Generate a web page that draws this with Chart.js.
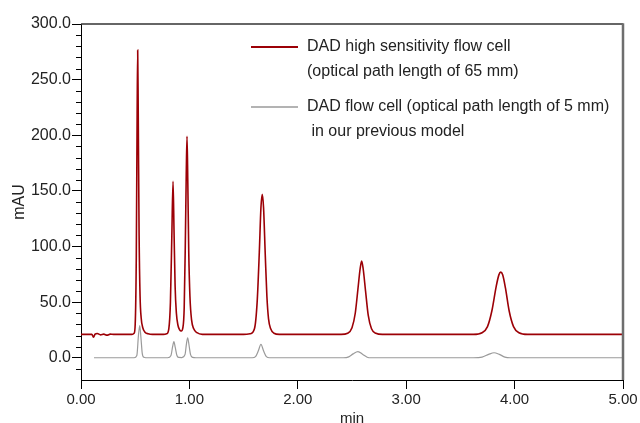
<!DOCTYPE html>
<html>
<head>
<meta charset="utf-8">
<script src="https://cdn.jsdelivr.net/npm/chart.js@4/dist/chart.umd.min.js"></script>
<style>
  html, body { margin: 0; padding: 0; background: #fff; }
  #wrap { width: 640px; height: 423px; }
</style>
</head>
<body>
<div id="wrap"><canvas id="chrom" width="640" height="423"></canvas></div>
<script>
// [time (min), signal (mAU)]
const highSensTrace = [
    [0.00, 21], [0.10, 21], [0.115, 18.5], [0.13, 21.2], [0.15, 21.8], [0.18, 20.6],
    [0.21, 21.2], [0.24, 20.3], [0.27, 21.2], [0.30, 21], [0.47, 21],
    [0.49, 22], [0.50, 30], [0.51, 90], [0.518, 220], [0.523, 276.5], [0.528, 220],
    [0.536, 110], [0.545, 55], [0.555, 36], [0.57, 27], [0.59, 23], [0.62, 21.5], [0.66, 21],
    [0.76, 21], [0.79, 21.5], [0.81, 26], [0.825, 50], [0.838, 110], [0.849, 158.5],
    [0.858, 115], [0.868, 65], [0.88, 40], [0.895, 29], [0.91, 25], [0.925, 24],
    [0.94, 27], [0.952, 45], [0.962, 100], [0.971, 165], [0.978, 199], [0.985, 160],
    [0.994, 95], [1.005, 55], [1.02, 34], [1.04, 26], [1.07, 22.5], [1.12, 21],
    [1.50, 21], [1.56, 21.5], [1.60, 26], [1.625, 50], [1.645, 95], [1.66, 135],
    [1.672, 147], [1.684, 135], [1.70, 92], [1.715, 55], [1.73, 35], [1.75, 26],
    [1.78, 22], [1.83, 21],
    [2.40, 21], [2.46, 22], [2.50, 27], [2.53, 40], [2.555, 62], [2.575, 80],
    [2.589, 87], [2.603, 80], [2.625, 60], [2.65, 38], [2.68, 26], [2.72, 22], [2.78, 21],
    [3.62, 21], [3.70, 22.5], [3.75, 28], [3.79, 42], [3.83, 64], [3.855, 74.5],
    [3.872, 77], [3.89, 74.5], [3.915, 63], [3.95, 42], [3.99, 28], [4.04, 22.5],
    [4.12, 21], [5.00, 21]
];

const standardTrace = [
    [0.12, 0], [0.49, 0], [0.515, 2], [0.53, 20], [0.542, 29], [0.553, 18], [0.565, 4],
    [0.58, 0.5], [0.62, 0],
    [0.80, 0], [0.83, 2], [0.845, 10], [0.857, 14.5], [0.87, 9], [0.885, 2], [0.90, 0.3],
    [0.93, 0.2], [0.96, 3], [0.972, 12], [0.984, 18], [0.997, 11], [1.01, 3], [1.03, 0.3],
    [1.06, 0],
    [1.58, 0], [1.61, 1], [1.635, 6], [1.66, 12], [1.685, 6], [1.71, 1], [1.74, 0],
    [2.42, 0], [2.47, 0.8], [2.51, 3.5], [2.555, 5.5], [2.60, 3], [2.64, 0.5], [2.68, 0],
    [3.62, 0], [3.70, 0.6], [3.76, 3], [3.81, 4.5], [3.86, 3], [3.91, 0.6], [3.96, 0],
    [5.00, 0]
];

const seriesLabels = [
    ['DAD high sensitivity flow cell', '(optical path length of 65 mm)'],
    ['DAD flow cell (optical path length of 5 mm)', ' in our previous model']
];
const seriesColors = ['#9c0006', '#9a9a9a'];

const xTickValues = [0, 1, 2, 3, 4, 5];
const yTickValues = [0, 50, 100, 150, 200, 250, 300];
const yMinorTickValues = [-10, 10, 20, 30, 40, 60, 70, 80, 90, 110, 120, 130, 140,
    160, 170, 180, 190, 210, 220, 230, 240, 260, 270, 280, 290];

const FONT = "'Liberation Sans', Arial, Helvetica, sans-serif";
const toPoints = (trace) => trace.map(([x, y]) => ({ x, y }));

// frame (top/right), minor y ticks and the two-line legend
const decorations = {
    id: 'decorations',
    afterDraw(chart) {
        const { ctx, chartArea: a, scales } = chart;
        ctx.save();

        ctx.strokeStyle = '#333';
        ctx.lineWidth = 1.5;
        ctx.beginPath();
        ctx.moveTo(a.left, a.top);
        ctx.lineTo(a.right, a.top);
        ctx.stroke();

        ctx.strokeStyle = '#6e6e6e';
        ctx.lineWidth = 2.5;
        ctx.beginPath();
        ctx.moveTo(a.right, a.top - 0.75);
        ctx.lineTo(a.right, a.bottom);
        ctx.stroke();

        ctx.strokeStyle = '#000';
        ctx.lineWidth = 1;
        yMinorTickValues.forEach(v => {
            const py = Math.round(scales.y.getPixelForValue(v)) + 0.5;
            ctx.beginPath();
            ctx.moveTo(a.left - 5, py);
            ctx.lineTo(a.left, py);
            ctx.stroke();
        });

        ctx.font = `16px ${FONT}`;
        ctx.textBaseline = 'middle';
        ctx.textAlign = 'left';
        ctx.fillStyle = '#222';
        const rowY = [47, 107];
        seriesLabels.forEach((lines, i) => {
            ctx.strokeStyle = seriesColors[i];
            ctx.lineWidth = i === 0 ? 2 : 1.5;
            ctx.beginPath();
            ctx.moveTo(251, rowY[i]);
            ctx.lineTo(298, rowY[i]);
            ctx.stroke();
            lines.forEach((txt, j) => ctx.fillText(txt, 307, rowY[i] + j * 25));
        });

        ctx.restore();
    }
};

new Chart(document.getElementById('chrom'), {
    type: 'line',
    data: {
        datasets: [
            {
                label: seriesLabels[0].join(' '),
                data: toPoints(highSensTrace),
                borderColor: seriesColors[0],
                borderWidth: 1.6,
                pointRadius: 0,
                cubicInterpolationMode: 'monotone',
                fill: false
            },
            {
                label: seriesLabels[1].join(' '),
                data: toPoints(standardTrace),
                borderColor: seriesColors[1],
                borderWidth: 1.2,
                pointRadius: 0,
                cubicInterpolationMode: 'monotone',
                fill: false
            }
        ]
    },
    options: {
        responsive: false,
        animation: false,
        events: [],
        layout: { padding: { left: 0, right: 17, top: 24, bottom: 0 } },
        plugins: { legend: { display: false }, tooltip: { enabled: false } },
        scales: {
            x: {
                type: 'linear',
                min: 0,
                max: 5,
                afterBuildTicks: (s) => { s.ticks = xTickValues.map(v => ({ value: v })); },
                afterFit: (s) => { s.height = 43; },
                ticks: {
                    callback: (v) => v.toFixed(2),
                    font: { family: FONT, size: 15 },
                    color: '#222',
                    padding: 2,
                    maxRotation: 0
                },
                grid: { drawOnChartArea: false, tickLength: 9, color: '#000' },
                border: { color: '#000', width: 1 },
                title: {
                    display: true,
                    text: 'min',
                    font: { family: FONT, size: 15 },
                    color: '#222',
                    padding: { top: 0, bottom: -4.5 }
                }
            },
            y: {
                min: -20,
                max: 300,
                afterBuildTicks: (s) => { s.ticks = yTickValues.map(v => ({ value: v })); },
                afterFit: (s) => { s.width = 81; },
                ticks: {
                    callback: (v) => v.toFixed(1),
                    font: { family: FONT, size: 16 },
                    color: '#222',
                    padding: 1
                },
                grid: { drawOnChartArea: false, tickLength: 9, color: '#000' },
                border: { color: '#000', width: 1 },
                title: {
                    display: true,
                    text: 'mAU',
                    font: { family: FONT, size: 16 },
                    color: '#222',
                    padding: { top: 10, bottom: 0 }
                }
            }
        }
    },
    plugins: [decorations]
});
</script>
</body>
</html>
